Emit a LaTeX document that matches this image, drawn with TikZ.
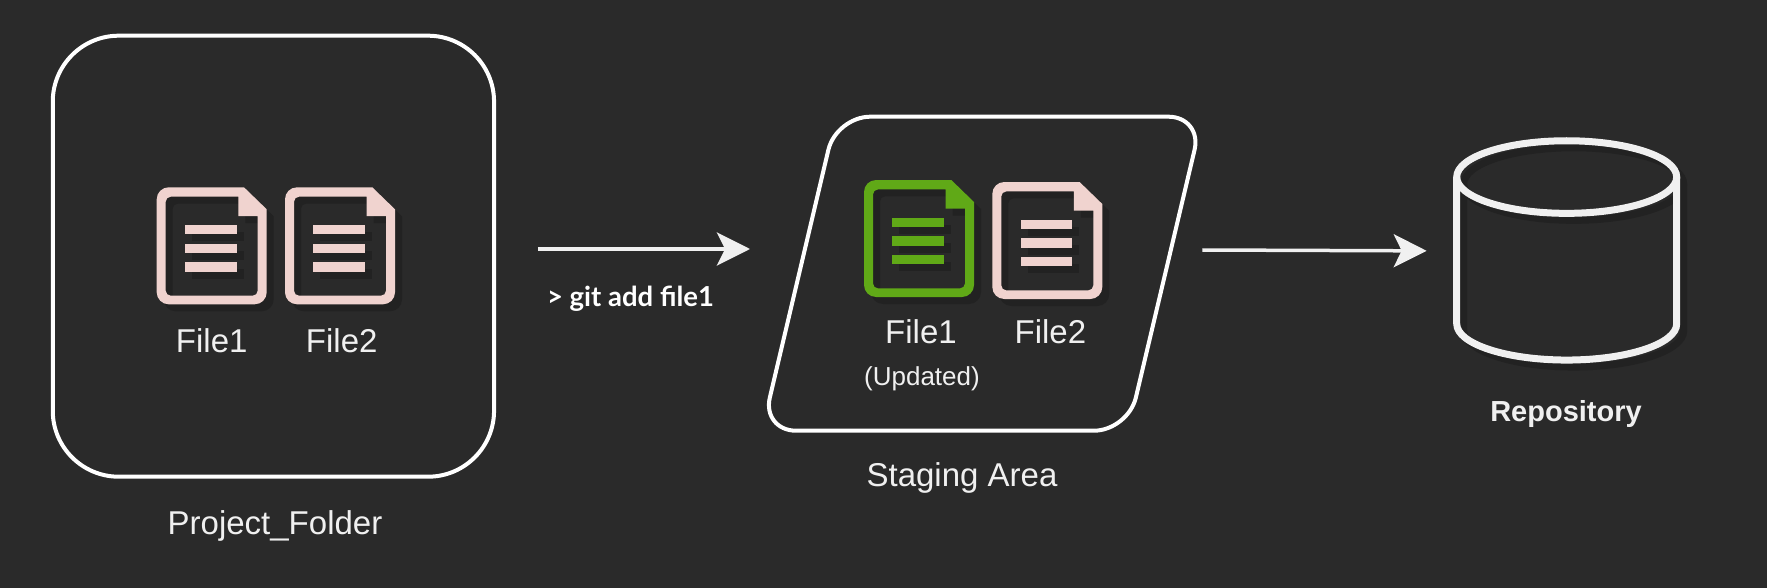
\documentclass[tikz,border=0pt]{standalone}
\usepackage{fontspec}
\setmainfont{Liberation Sans}
\newfontfamily\gitfont{Lato}
\definecolor{backdrop}{HTML}{2A2A2A}
\definecolor{darkshadow}{HTML}{222222}
\definecolor{filepink}{HTML}{F0D3CF}
\definecolor{filegreen}{HTML}{60A917}
\definecolor{chalk}{HTML}{F0F0F0}
\usetikzlibrary{arrows.meta}
\tikzset{%
  folder/.style={draw=white, line width=4, rectangle, rounded corners=66,
    minimum width=441.3, minimum height=441, inner sep=0, outer sep=0},% working folder
  icon/.style={inner sep=0, outer sep=0},% node holding a small picture
  caption/.style={text=chalk, anchor=base, inner sep=0, font=\fontsize{33}{36}\selectfont},% big text
  flow/.style={draw=chalk, line width=3.5, -{Stealth[length=33,width=33,inset=8]}}% arrows
}
\newcommand*{\iconbody}[1]{
  \fill[#1, even odd rule]
    [rounded corners=12] (110,30) -- (110,117) -- (0,117) -- (0,0) -- (70,0)
    [sharp corners] -- (87.3,0) -- (110,22) -- cycle
    [rounded corners=5] (70,9.4) -- (9,9.4) -- (9,108.4) -- (101,108.4) -- (101,45)
    [sharp corners] -- (101,28.7) -- (81.6,28.7) -- (81.6,9.4) -- cycle;
  \fill[#1] (28.3,37.7) rectangle (80,47);
  \fill[#1] (28.3,56.4) rectangle (80,66);
  \fill[#1] (28.3,74.7) rectangle (80,84.4);
}
\newcommand*{\fileicon}[1]{
\begin{tikzpicture}[x=1pt,y=-1pt]
  \useasboundingbox (0,0) rectangle (110,117);
  \begin{scope}[shift={(7,7)}]
    \iconbody{darkshadow}
  \end{scope}
  \iconbody{#1}
\end{tikzpicture}}
\newcommand*{\drumbody}[1]{
  \draw[#1, line width=7] (110,183) ellipse (110 and 36.3);
  \draw[#1, line width=7] (0,183) -- (0,36.3) arc (180:360:110 and 36.3) -- (220,183);
}
\newcommand*{\drum}{
\begin{tikzpicture}[x=1pt,y=1pt]
  \useasboundingbox (0,0) rectangle (220,219.3);
  \begin{scope}[shift={(7,-7)}]
    \drumbody{darkshadow}
  \end{scope}
  \drumbody{chalk}
\end{tikzpicture}}
\newcommand*{\stagebox}{
\begin{tikzpicture}[x=1pt,y=1pt]
  \useasboundingbox (0,0) rectangle (440.4,314);
  \draw[white, line width=4, rounded corners=34] (200,0) -- (0,0) -- (74.2,314) -- (440.4,314)
    -- (366,0) -- cycle;
\end{tikzpicture}}

\begin{document}
\begin{tikzpicture}[x=1pt,y=-1pt]
\fill[backdrop] (0,0) rectangle (1767,588);
\useasboundingbox (0,0) rectangle (1767,588);
\coordinate (addline) at (0,249);
\coordinate (pushstart) at (0,250);
\coordinate (pushend) at (0,251);

\node[folder] (project) at (273.4,256.2) {};
\node[icon] (staging) at (982.2,273.7) {\stagebox};
\node[icon] (repository) at (1566.7,250.4) {\drum};

\node[icon] (p1) at (211.7,245.8) {\fileicon{filepink}};
\node[icon] (p2) at (340,245.8) {\fileicon{filepink}};
\node[icon] (s1) at (919,238.5) {\fileicon{filegreen}};
\node[icon] (s2) at (1047.3,240.5) {\fileicon{filepink}};

\node[caption] (p1text) at (211.7,352.7) {File1};
\node[caption] (p2text) at (341.7,352.7) {File2};
\node[caption] (projecttext) at (275,534) {Project\_Folder};
\node[caption] (s1text) at (921,343.8) {File1};
\node[caption] (s2text) at (1050.4,343.8) {File2};
\node[caption, font=\fontsize{26}{30}\selectfont] (updated) at (922,385) {(Updated)};
\node[caption] (stagingtext) at (962,486) {Staging Area};
\node[caption, font=\fontsize{29}{33}\selectfont\bfseries] (repotext) at (1566,421) {Repository};
\node[caption, text=white, font=\fontsize{27.5}{32}\selectfont\gitfont\bfseries] (gitadd) at (630.5,306.7) {> git add file1};

\draw[flow, shorten <=43.7, shorten >=12] (project.east |- addline) -- (staging.west |- addline);
\draw[flow, shorten >=30] (staging.east |- pushstart) -- (repository.west |- pushend);
\end{tikzpicture}
\end{document}
